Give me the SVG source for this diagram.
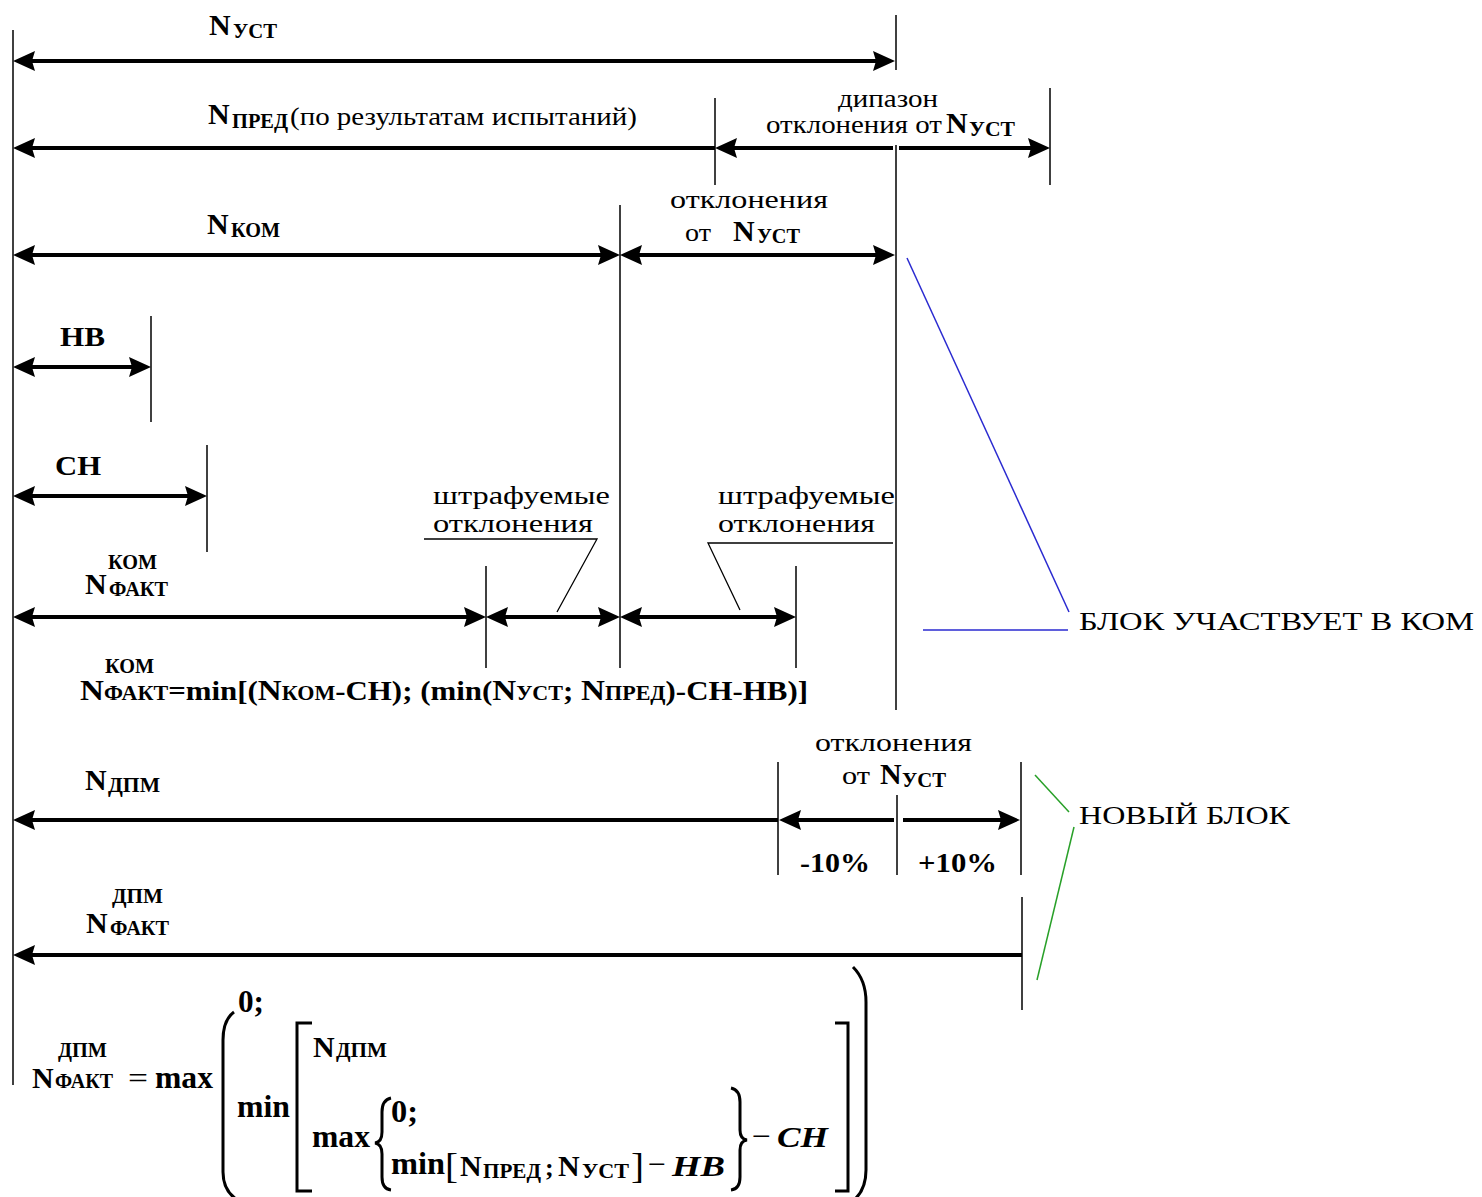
<svg xmlns="http://www.w3.org/2000/svg" width="1482" height="1197" viewBox="0 0 1482 1197">
<style>
text{font-family:"Liberation Serif","Times New Roman",serif;fill:#000}
.b{font-weight:bold}
.N{font-weight:bold;font-size:30px}
.s{font-weight:bold;font-size:20px}
.r{font-size:26px}
.c{font-weight:bold;font-size:28px}
.i{font-weight:bold;font-style:italic;font-size:30px}
.m{font-weight:bold;font-size:31px}
.dim{stroke:#000;stroke-width:4;fill:none}
.v{stroke:#000;stroke-width:1.5;fill:none}
.ld{stroke:#000;stroke-width:1.3;fill:none}
.blue{stroke:#2a2ad0;stroke-width:1.5;fill:none}
.green{stroke:#28a028;stroke-width:1.5;fill:none}
.br{stroke:#000;stroke-width:3;fill:none}
</style>
<defs>
<marker id="ah" viewBox="0 0 22 20" refX="11" refY="10" markerWidth="22" markerHeight="20" markerUnits="userSpaceOnUse" orient="auto-start-reverse">
<path d="M0,0 L22,10 L0,20 L3,10 z" fill="#000"/>
</marker>
</defs>
<rect width="1482" height="1197" fill="#fff"/>

<g id="connectors">
<line class="v" x1="13" y1="30" x2="13" y2="1085"/>
<line class="v" x1="896" y1="15" x2="896" y2="70"/>
<line class="v" x1="896" y1="145" x2="896" y2="710"/>
<line class="v" x1="715" y1="98" x2="715" y2="185"/>
<line class="v" x1="1050" y1="88" x2="1050" y2="185"/>
<line class="v" x1="620" y1="205" x2="620" y2="668"/>
<line class="v" x1="151" y1="316" x2="151" y2="422"/>
<line class="v" x1="207" y1="445" x2="207" y2="552"/>
<line class="v" x1="486" y1="566" x2="486" y2="668"/>
<line class="v" x1="796" y1="566" x2="796" y2="668"/>
<line class="v" x1="778" y1="762" x2="778" y2="875"/>
<line class="v" x1="897" y1="795" x2="897" y2="875"/>
<line class="v" x1="1021" y1="762" x2="1021" y2="875"/>
<line class="v" x1="1022" y1="897" x2="1022" y2="1010"/>

<line class="dim" x1="24" y1="61" x2="884" y2="61" marker-start="url(#ah)" marker-end="url(#ah)"/>
<line class="dim" x1="24" y1="148" x2="715" y2="148" marker-start="url(#ah)"/>
<line class="dim" x1="726" y1="148" x2="893" y2="148" marker-start="url(#ah)"/>
<line class="dim" x1="899" y1="148" x2="1039" y2="148" marker-end="url(#ah)"/>
<line class="dim" x1="24" y1="255" x2="609" y2="255" marker-start="url(#ah)" marker-end="url(#ah)"/>
<line class="dim" x1="631" y1="255" x2="884" y2="255" marker-start="url(#ah)" marker-end="url(#ah)"/>
<line class="dim" x1="24" y1="367" x2="140" y2="367" marker-start="url(#ah)" marker-end="url(#ah)"/>
<line class="dim" x1="24" y1="496" x2="196" y2="496" marker-start="url(#ah)" marker-end="url(#ah)"/>
<line class="dim" x1="24" y1="617" x2="475" y2="617" marker-start="url(#ah)" marker-end="url(#ah)"/>
<line class="dim" x1="497" y1="617" x2="609" y2="617" marker-start="url(#ah)" marker-end="url(#ah)"/>
<line class="dim" x1="631" y1="617" x2="785" y2="617" marker-start="url(#ah)" marker-end="url(#ah)"/>
<line class="dim" x1="24" y1="820" x2="778" y2="820" marker-start="url(#ah)"/>
<line class="dim" x1="790" y1="820" x2="894" y2="820" marker-start="url(#ah)"/>
<line class="dim" x1="903" y1="820" x2="1009" y2="820" marker-end="url(#ah)"/>
<line class="dim" x1="24" y1="955" x2="1022" y2="955" marker-start="url(#ah)"/>

<polyline class="ld" points="424,539 597,539 557,612"/>
<polyline class="ld" points="893,543 708,543 740,610"/>
<line class="blue" x1="907" y1="258" x2="1069" y2="612"/>
<line class="blue" x1="923" y1="630" x2="1068" y2="630"/>
<line class="green" x1="1035" y1="775" x2="1069" y2="812"/>
<line class="green" x1="1074" y1="827" x2="1037" y2="980"/>
</g>

<g id="n-ust">
<text class="N" x="209" y="35">N</text>
<text class="s" x="233" y="38" textLength="44" lengthAdjust="spacingAndGlyphs">УСТ</text>
</g>
<g id="n-pred">
<text class="N" x="208" y="124">N</text>
<text class="s" x="232" y="128" textLength="56" lengthAdjust="spacingAndGlyphs">ПРЕД</text>
<text class="r" x="290" y="125" textLength="347" lengthAdjust="spacingAndGlyphs">(по результатам испытаний)</text>
</g>
<g id="range-label">
<text class="r" x="838" y="107" textLength="100" lengthAdjust="spacingAndGlyphs">дипазон</text>
<text class="r" x="766" y="133" textLength="176" lengthAdjust="spacingAndGlyphs">отклонения от</text>
<text class="N" x="946" y="133">N</text>
<text class="s" x="969" y="136" textLength="46" lengthAdjust="spacingAndGlyphs">УСТ</text>
</g>
<g id="n-kom">
<text class="N" x="207" y="234">N</text>
<text class="s" x="231" y="237" textLength="49" lengthAdjust="spacingAndGlyphs">КОМ</text>
</g>
<g id="dev-kom">
<text class="r" x="670" y="208" textLength="158" lengthAdjust="spacingAndGlyphs">отклонения</text>
<text class="r" x="685" y="241" textLength="26" lengthAdjust="spacingAndGlyphs">от</text>
<text class="N" x="733" y="241">N</text>
<text class="s" x="757" y="243" textLength="43" lengthAdjust="spacingAndGlyphs">УСТ</text>
</g>
<g id="hb">
<text class="c" x="60" y="346" textLength="45" lengthAdjust="spacingAndGlyphs">НВ</text>
</g>
<g id="ch">
<text class="c" x="55" y="475" textLength="46" lengthAdjust="spacingAndGlyphs">СН</text>
</g>
<g id="penalty-left">
<text class="r" x="433" y="504" textLength="177" lengthAdjust="spacingAndGlyphs">штрафуемые</text>
<text class="r" x="433" y="532" textLength="160" lengthAdjust="spacingAndGlyphs">отклонения</text>
</g>
<g id="penalty-right">
<text class="r" x="718" y="504" textLength="177" lengthAdjust="spacingAndGlyphs">штрафуемые</text>
<text class="r" x="718" y="532" textLength="157" lengthAdjust="spacingAndGlyphs">отклонения</text>
</g>
<g id="n-fakt-kom">
<text class="s" x="108" y="569" textLength="49" lengthAdjust="spacingAndGlyphs">КОМ</text>
<text class="N" x="85" y="594">N</text>
<text class="s" x="109" y="596" textLength="59" lengthAdjust="spacingAndGlyphs">ФАКТ</text>
</g>
<g id="formula-kom">
<text class="s" x="105" y="673" textLength="49" lengthAdjust="spacingAndGlyphs">КОМ</text>
<text class="b" x="80" y="700" font-size="28" textLength="728" lengthAdjust="spacingAndGlyphs"><tspan font-size="30">N</tspan><tspan font-size="20">ФАКТ</tspan>=min[(<tspan font-size="30">N</tspan><tspan font-size="20">КОМ</tspan>-СН); (min(<tspan font-size="30">N</tspan><tspan font-size="20">УСТ</tspan>; <tspan font-size="30">N</tspan><tspan font-size="20">ПРЕД</tspan>)-СН-НВ)]</text>
</g>
<g id="block-kom">
<text class="r" x="1079" y="630" textLength="395" lengthAdjust="spacingAndGlyphs">БЛОК УЧАСТВУЕТ В КОМ</text>
</g>
<g id="dev-dpm">
<text class="r" x="815" y="751" textLength="157" lengthAdjust="spacingAndGlyphs">отклонения</text>
<text class="r" x="842" y="784" textLength="28" lengthAdjust="spacingAndGlyphs">от</text>
<text class="N" x="880" y="784">N</text>
<text class="s" x="902" y="787" textLength="44" lengthAdjust="spacingAndGlyphs">УСТ</text>
<text class="c" x="800" y="872" textLength="70" lengthAdjust="spacingAndGlyphs">-10%</text>
<text class="c" x="918" y="872" textLength="79" lengthAdjust="spacingAndGlyphs">+10%</text>
</g>
<g id="n-dpm">
<text class="N" x="85" y="790">N</text>
<text class="s" x="108" y="792" textLength="52" lengthAdjust="spacingAndGlyphs">ДПМ</text>
</g>
<g id="new-block">
<text class="r" x="1079" y="824" font-size="27" textLength="211" lengthAdjust="spacingAndGlyphs">НОВЫЙ БЛОК</text>
</g>
<g id="n-fakt-dpm">
<text class="s" x="112" y="903" textLength="51" lengthAdjust="spacingAndGlyphs">ДПМ</text>
<text class="N" x="86" y="933">N</text>
<text class="s" x="110" y="935" textLength="59" lengthAdjust="spacingAndGlyphs">ФАКТ</text>
</g>

<g id="formula-dpm">
<text class="s" x="58" y="1057" textLength="49" lengthAdjust="spacingAndGlyphs">ДПМ</text>
<text class="N" x="32" y="1088">N</text>
<text class="s" x="55" y="1088" textLength="58" lengthAdjust="spacingAndGlyphs">ФАКТ</text>
<text x="128" y="1088" font-size="30" textLength="20" lengthAdjust="spacingAndGlyphs">=</text>
<text class="m" x="155" y="1088" textLength="58" lengthAdjust="spacingAndGlyphs">max</text>
<path class="br" d="M234,1012 Q223,1020 223,1040 L223,1172 Q223,1190 236,1199"/>
<text class="m" x="238" y="1012" textLength="26" lengthAdjust="spacingAndGlyphs">0;</text>
<text class="m" x="237" y="1117" textLength="53" lengthAdjust="spacingAndGlyphs">min</text>
<path class="br" d="M312,1023 L297,1023 L297,1191 L312,1191"/>
<text class="N" x="313" y="1057">N</text>
<text class="s" x="336" y="1057" textLength="51" lengthAdjust="spacingAndGlyphs">ДПМ</text>
<text class="m" x="312" y="1147" textLength="58" lengthAdjust="spacingAndGlyphs">max</text>
<path class="br" d="M391,1098 Q382,1100 382,1112 L382,1132 Q382,1142 375,1143 Q382,1144 382,1154 L382,1177 Q382,1189 391,1190"/>
<text class="m" x="391" y="1122" textLength="27" lengthAdjust="spacingAndGlyphs">0;</text>
<text class="m" x="391" y="1174" textLength="54" lengthAdjust="spacingAndGlyphs">min</text>
<text x="445" y="1178" font-size="36" textLength="13" lengthAdjust="spacingAndGlyphs">[</text>
<text class="N" x="460" y="1176" font-size="28">N</text>
<text class="s" x="483" y="1178" textLength="58" lengthAdjust="spacingAndGlyphs">ПРЕД</text>
<text class="b" x="545" y="1176" font-size="26">;</text>
<text class="N" x="558" y="1176" font-size="28">N</text>
<text class="s" x="582" y="1178" textLength="47" lengthAdjust="spacingAndGlyphs">УСТ</text>
<text x="631" y="1178" font-size="36" textLength="13" lengthAdjust="spacingAndGlyphs">]</text>
<text x="648" y="1174" font-size="30" textLength="18" lengthAdjust="spacingAndGlyphs">−</text>
<text class="i" x="672" y="1176" textLength="53" lengthAdjust="spacingAndGlyphs">НВ</text>
<path class="br" d="M731,1088 Q740,1090 740,1102 L740,1130 Q740,1139 747,1140 Q740,1141 740,1150 L740,1177 Q740,1189 731,1190"/>
<text x="752" y="1146" font-size="30" textLength="19" lengthAdjust="spacingAndGlyphs">−</text>
<text class="i" x="777" y="1147" textLength="51" lengthAdjust="spacingAndGlyphs">СН</text>
<path class="br" d="M835,1023 L848,1023 L848,1191 L835,1191"/>
<path class="br" d="M853,967 Q866,980 866,1002 L866,1170 Q866,1188 856,1198"/>
</g>
</svg>
